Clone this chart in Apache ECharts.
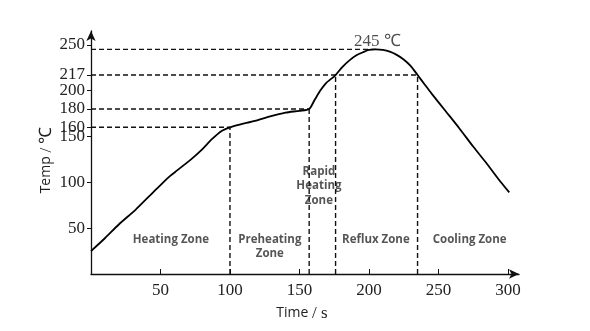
<!DOCTYPE html>
<html>
<head>
<meta charset="utf-8">
<script src="https://cdn.jsdelivr.net/npm/echarts@6/dist/echarts.min.js"></script>
<style>
  html, body { margin: 0; padding: 0; background: #fff; }
  #chart { width: 590px; height: 331px; }
</style>
</head>
<body>
<div id="chart"></div>
<script>
// Reflow soldering temperature profile
const timeSec = [0, 10, 20, 32, 44, 52, 57, 62, 67, 72, 80, 87, 94, 100, 107, 118, 129, 140, 150, 157,
                 161, 165, 169, 173, 176, 181, 186, 191, 196, 200, 205, 210, 215, 220, 225, 230, 235,
                 240, 245, 255, 265, 275, 285, 295, 301];
const tempC = [25, 39, 54, 70, 88, 100, 107, 113, 119, 125, 136, 147, 156, 160, 163, 167, 172, 176, 178, 180,
               190, 200, 208, 213, 217, 226, 233, 238.5, 242, 244.3, 245, 244.4, 242.5, 239, 234, 227, 217,
               207, 197, 178, 159, 139, 120, 100, 89];

// Key temperature levels and the times where the profile meets them
const levelTemps = [245, 217, 180, 160];
const levelEndTimes = [205, 235, 157, 100];
// Zone boundaries (time) and the level each boundary rises to
const boundaryTimes = [100, 157, 176, 235];
const boundaryTops = [160, 180, 217, 217];

const yTickValues = [50, 100, 150, 160, 180, 200, 217, 250];
const xTickValues = [50, 100, 150, 200, 250, 300];

const zoneNames = ['Heating Zone', 'Preheating\nZone', 'Rapid\nHeating\nZone', 'Reflux Zone', 'Cooling Zone'];
const zoneAnchors = [[57.5, 37], [128.7, 29.5], [164, 96], [205, 37], [272.5, 37]];

const peakLabel = '245 ℃';
const peakAnchor = [206, 253];

const dashStyle = { color: '#111', width: 1.4, type: [5, 3] };

const guideSeries = [];
levelTemps.forEach((t, i) => {
  guideSeries.push({
    type: 'line', symbol: 'none', silent: true, z: 3,
    lineStyle: dashStyle,
    data: [[0, t], [levelEndTimes[i], t]]
  });
});
boundaryTimes.forEach((s, i) => {
  guideSeries.push({
    type: 'line', symbol: 'none', silent: true, z: 3,
    lineStyle: dashStyle,
    data: [[s, 0], [s, boundaryTops[i]]]
  });
});

const chart = echarts.init(document.getElementById('chart'), null, { renderer: 'canvas' });
chart.setOption({
  animation: false,
  backgroundColor: '#fff',
  grid: { left: 91, right: 71, top: 31, bottom: 57, containLabel: false },
  xAxis: {
    type: 'value', min: 0, max: 308,
    name: '{a|Time }{b|/ s}',
    nameLocation: 'middle', nameGap: 31,
    nameTextStyle: {
      padding: [0, 6, 0, 0],
      rich: {
        a: { fontFamily: 'Open Sans', fontSize: 14, color: '#222' },
        b: { fontFamily: 'Liberation Serif', fontSize: 17, color: '#222' }
      }
    },
    axisLine: { lineStyle: { color: '#111', width: 1.3 }, symbol: ['none', 'arrow'], symbolSize: [7, 10], symbolOffset: [0, 0] },
    axisTick: { inside: true, length: 5, lineStyle: { color: '#111' }, customValues: xTickValues },
    axisLabel: { customValues: xTickValues, margin: 8, fontFamily: 'Liberation Serif', fontSize: 17, color: '#222' },
    splitLine: { show: false }
  },
  yAxis: {
    type: 'value', min: 0, max: 265,
    name: '{a|Temp }{b|/ ℃}',
    nameLocation: 'middle', nameGap: 36, nameRotate: 90,
    nameMoveOverlap: false,
    nameTextStyle: {
      padding: [0, 15, 0, 0],
      rich: {
        a: { fontFamily: 'Open Sans', fontSize: 14, color: '#222' },
        b: { fontFamily: 'Liberation Serif', fontSize: 17, color: '#222' }
      }
    },
    axisLine: { lineStyle: { color: '#111', width: 1.3 }, symbol: ['none', 'arrow'], symbolSize: [7, 10], symbolOffset: [0, 0] },
    axisTick: { inside: false, length: 4, lineStyle: { color: '#111' }, customValues: yTickValues },
    axisLabel: { customValues: yTickValues, margin: 6, fontFamily: 'Liberation Serif', fontSize: 17, color: '#222' },
    splitLine: { show: false }
  },
  series: [
    {
      type: 'line', symbol: 'none', smooth: 0.25, z: 4,
      lineStyle: { color: '#000', width: 1.8 },
      data: timeSec.map((s, i) => [s, tempC[i]])
    },
    ...guideSeries,
    {
      type: 'scatter', symbolSize: 1, z: 2, silent: true,
      itemStyle: { color: 'rgba(0,0,0,0)' },
      label: {
        show: true, position: 'inside', formatter: p => p.data.name,
        fontFamily: 'Open Sans', fontWeight: 'bold', fontSize: 11.5, lineHeight: 14.5, color: '#2a2a2a', align: 'center'
      },
      data: zoneNames.map((n, i) => ({ name: n, value: zoneAnchors[i] }))
    },
    {
      type: 'scatter', symbolSize: 1, z: 2, silent: true,
      itemStyle: { color: 'rgba(0,0,0,0)' },
      label: {
        show: true, position: 'inside', formatter: p => p.data.name,
        fontFamily: 'Liberation Serif', fontSize: 17, color: '#222'
      },
      data: [{ name: peakLabel, value: peakAnchor }]
    }
  ]
});
</script>
</body>
</html>
